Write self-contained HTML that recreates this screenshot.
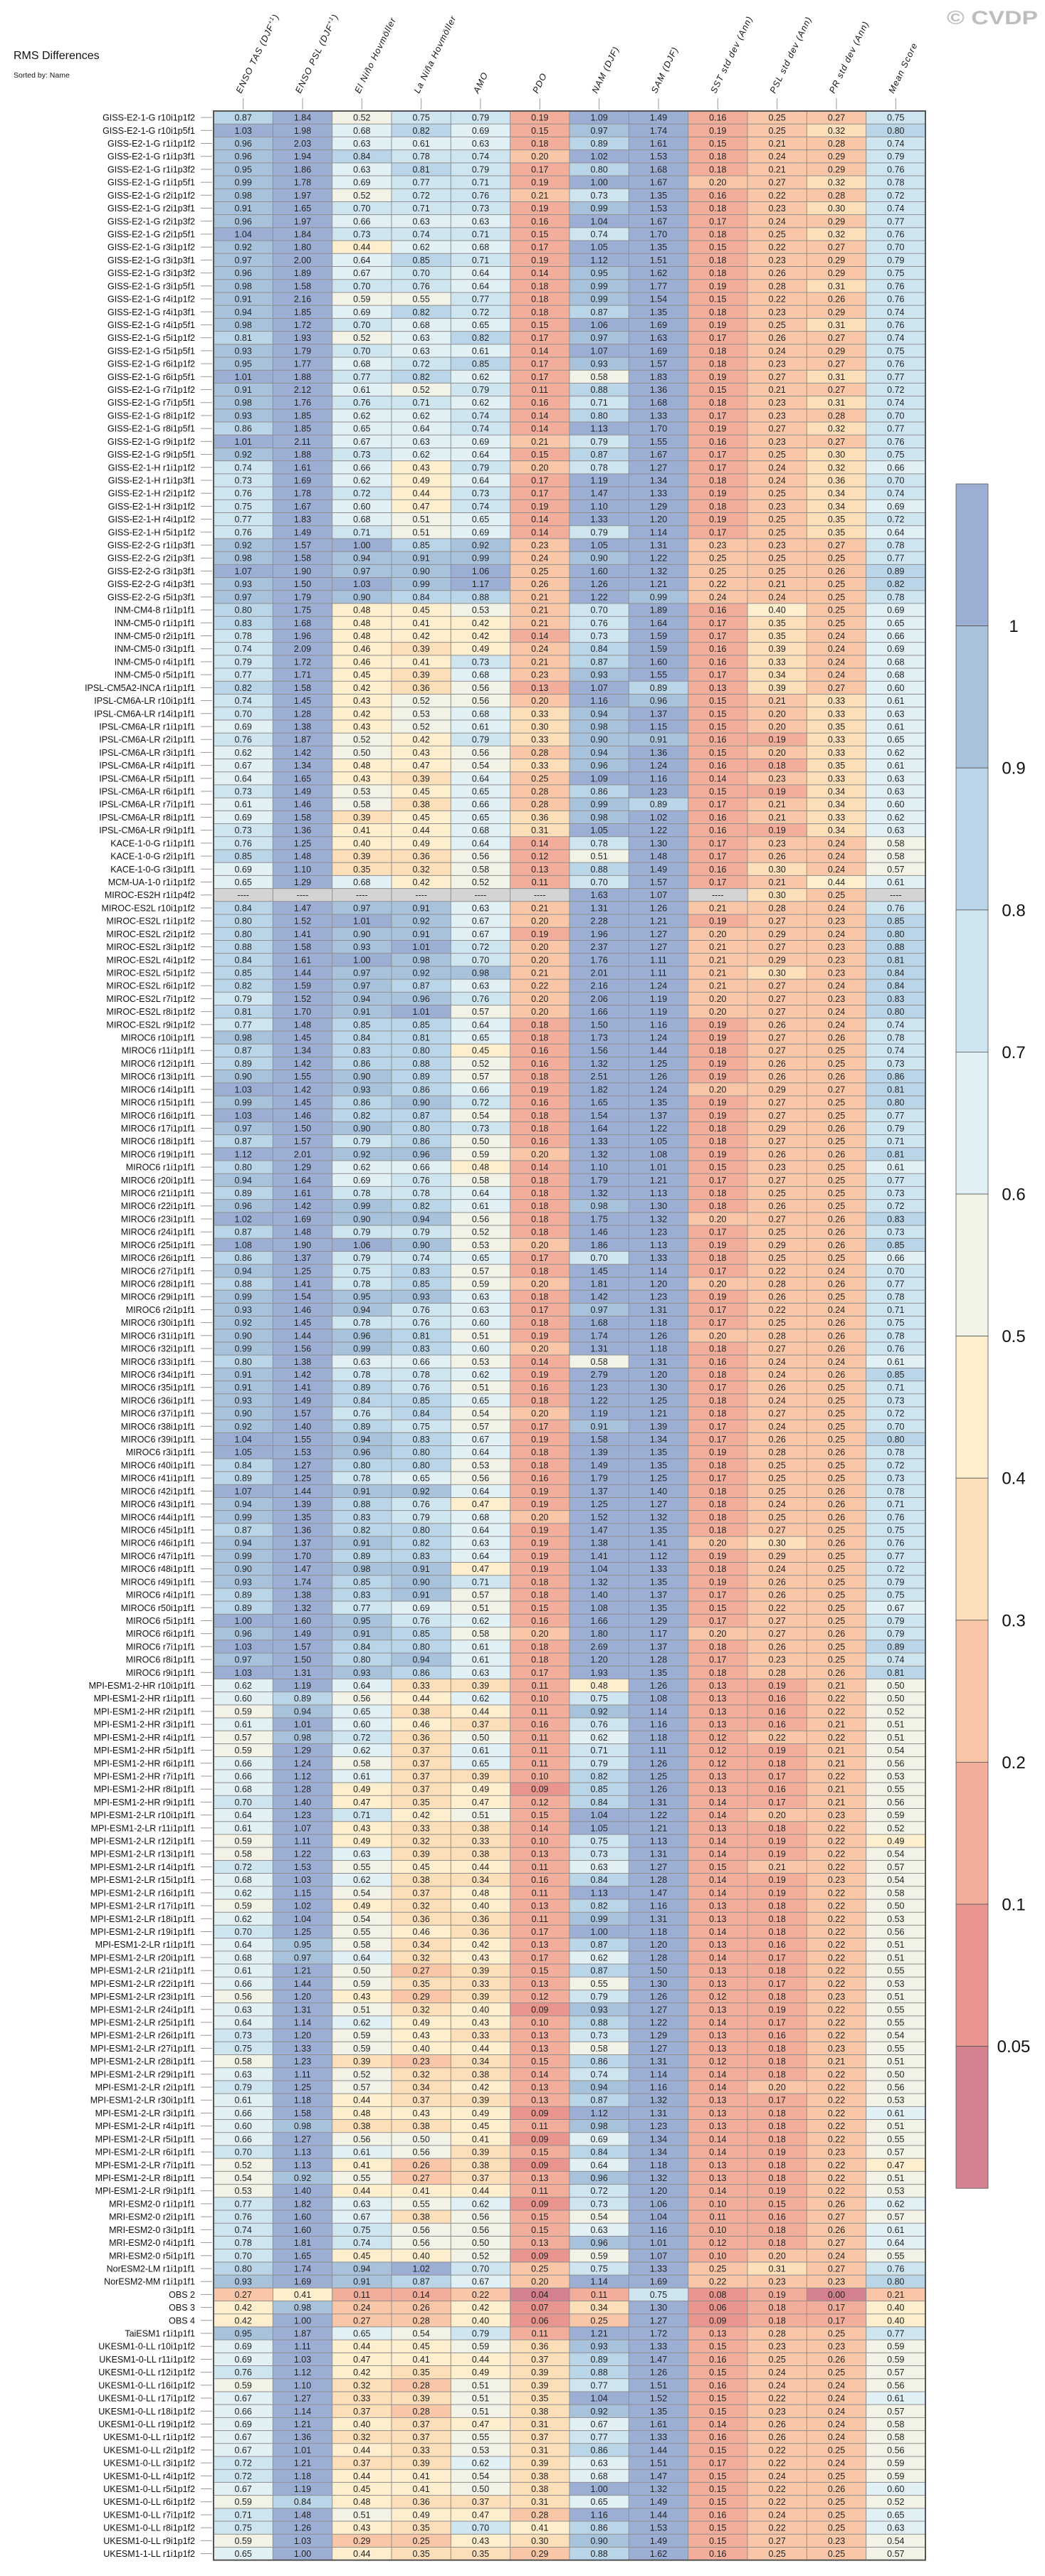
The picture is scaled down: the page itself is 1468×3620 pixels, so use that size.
<!DOCTYPE html>
<html>
<head>
<meta charset="utf-8">
<style>
  html,body{margin:0;padding:0;background:#fff;}
  svg{display:block;font-family:"Liberation Sans",Arial,sans-serif;}
</style>
</head>
<body>
<svg id="chart" width="1468" height="3620" viewBox="0 0 1468 3620" xmlns="http://www.w3.org/2000/svg">
  <text x="19" y="83" font-size="16" fill="#111">RMS Differences</text>
  <text x="19" y="109" font-size="10.5" fill="#111">Sorted by: Name</text>
  <text x="1330" y="34" font-size="27" font-weight="bold" fill="#bdbdbd" textLength="128" lengthAdjust="spacingAndGlyphs">© CVDP</text>
  <g id="headers"></g>
  <g id="labels"></g>
  <g id="cells"></g>
  <g id="grid"></g>
  <g id="colorbar"></g>
</svg>
<script>
const columns = ["ENSO TAS (DJF+1)","ENSO PSL (DJF+1)","El Niño Hovmöller","La Niña Hovmöller","AMO","PDO","NAM (DJF)","SAM (DJF)","SST std dev (Ann)","PSL std dev (Ann)","PR std dev (Ann)","Mean Score"];

const rowLabels = [
"GISS-E2-1-G r10i1p1f2","GISS-E2-1-G r10i1p5f1","GISS-E2-1-G r1i1p1f2","GISS-E2-1-G r1i1p3f1","GISS-E2-1-G r1i1p3f2","GISS-E2-1-G r1i1p5f1","GISS-E2-1-G r2i1p1f2","GISS-E2-1-G r2i1p3f1","GISS-E2-1-G r2i1p3f2","GISS-E2-1-G r2i1p5f1","GISS-E2-1-G r3i1p1f2","GISS-E2-1-G r3i1p3f1","GISS-E2-1-G r3i1p3f2","GISS-E2-1-G r3i1p5f1","GISS-E2-1-G r4i1p1f2","GISS-E2-1-G r4i1p3f1","GISS-E2-1-G r4i1p5f1","GISS-E2-1-G r5i1p1f2","GISS-E2-1-G r5i1p5f1","GISS-E2-1-G r6i1p1f2","GISS-E2-1-G r6i1p5f1","GISS-E2-1-G r7i1p1f2","GISS-E2-1-G r7i1p5f1","GISS-E2-1-G r8i1p1f2","GISS-E2-1-G r8i1p5f1","GISS-E2-1-G r9i1p1f2","GISS-E2-1-G r9i1p5f1",
"GISS-E2-1-H r1i1p1f2","GISS-E2-1-H r1i1p3f1","GISS-E2-1-H r2i1p1f2","GISS-E2-1-H r3i1p1f2","GISS-E2-1-H r4i1p1f2","GISS-E2-1-H r5i1p1f2",
"GISS-E2-2-G r1i1p3f1","GISS-E2-2-G r2i1p3f1","GISS-E2-2-G r3i1p3f1","GISS-E2-2-G r4i1p3f1","GISS-E2-2-G r5i1p3f1",
"INM-CM4-8 r1i1p1f1","INM-CM5-0 r1i1p1f1","INM-CM5-0 r2i1p1f1","INM-CM5-0 r3i1p1f1","INM-CM5-0 r4i1p1f1","INM-CM5-0 r5i1p1f1",
"IPSL-CM5A2-INCA r1i1p1f1","IPSL-CM6A-LR r10i1p1f1","IPSL-CM6A-LR r14i1p1f1","IPSL-CM6A-LR r1i1p1f1","IPSL-CM6A-LR r2i1p1f1","IPSL-CM6A-LR r3i1p1f1","IPSL-CM6A-LR r4i1p1f1","IPSL-CM6A-LR r5i1p1f1","IPSL-CM6A-LR r6i1p1f1","IPSL-CM6A-LR r7i1p1f1","IPSL-CM6A-LR r8i1p1f1","IPSL-CM6A-LR r9i1p1f1",
"KACE-1-0-G r1i1p1f1","KACE-1-0-G r2i1p1f1","KACE-1-0-G r3i1p1f1","MCM-UA-1-0 r1i1p1f2","MIROC-ES2H r1i1p4f2",
"MIROC-ES2L r10i1p1f2","MIROC-ES2L r1i1p1f2","MIROC-ES2L r2i1p1f2","MIROC-ES2L r3i1p1f2","MIROC-ES2L r4i1p1f2","MIROC-ES2L r5i1p1f2","MIROC-ES2L r6i1p1f2","MIROC-ES2L r7i1p1f2","MIROC-ES2L r8i1p1f2","MIROC-ES2L r9i1p1f2",
"MIROC6 r10i1p1f1","MIROC6 r11i1p1f1","MIROC6 r12i1p1f1","MIROC6 r13i1p1f1","MIROC6 r14i1p1f1","MIROC6 r15i1p1f1","MIROC6 r16i1p1f1","MIROC6 r17i1p1f1","MIROC6 r18i1p1f1","MIROC6 r19i1p1f1","MIROC6 r1i1p1f1","MIROC6 r20i1p1f1","MIROC6 r21i1p1f1","MIROC6 r22i1p1f1","MIROC6 r23i1p1f1","MIROC6 r24i1p1f1","MIROC6 r25i1p1f1","MIROC6 r26i1p1f1","MIROC6 r27i1p1f1","MIROC6 r28i1p1f1","MIROC6 r29i1p1f1","MIROC6 r2i1p1f1","MIROC6 r30i1p1f1","MIROC6 r31i1p1f1","MIROC6 r32i1p1f1","MIROC6 r33i1p1f1","MIROC6 r34i1p1f1","MIROC6 r35i1p1f1","MIROC6 r36i1p1f1","MIROC6 r37i1p1f1","MIROC6 r38i1p1f1","MIROC6 r39i1p1f1","MIROC6 r3i1p1f1","MIROC6 r40i1p1f1","MIROC6 r41i1p1f1","MIROC6 r42i1p1f1","MIROC6 r43i1p1f1","MIROC6 r44i1p1f1","MIROC6 r45i1p1f1","MIROC6 r46i1p1f1","MIROC6 r47i1p1f1","MIROC6 r48i1p1f1","MIROC6 r49i1p1f1","MIROC6 r4i1p1f1","MIROC6 r50i1p1f1","MIROC6 r5i1p1f1","MIROC6 r6i1p1f1","MIROC6 r7i1p1f1","MIROC6 r8i1p1f1","MIROC6 r9i1p1f1",
"MPI-ESM1-2-HR r10i1p1f1","MPI-ESM1-2-HR r1i1p1f1","MPI-ESM1-2-HR r2i1p1f1","MPI-ESM1-2-HR r3i1p1f1","MPI-ESM1-2-HR r4i1p1f1","MPI-ESM1-2-HR r5i1p1f1","MPI-ESM1-2-HR r6i1p1f1","MPI-ESM1-2-HR r7i1p1f1","MPI-ESM1-2-HR r8i1p1f1","MPI-ESM1-2-HR r9i1p1f1",
"MPI-ESM1-2-LR r10i1p1f1","MPI-ESM1-2-LR r11i1p1f1","MPI-ESM1-2-LR r12i1p1f1","MPI-ESM1-2-LR r13i1p1f1","MPI-ESM1-2-LR r14i1p1f1","MPI-ESM1-2-LR r15i1p1f1","MPI-ESM1-2-LR r16i1p1f1","MPI-ESM1-2-LR r17i1p1f1","MPI-ESM1-2-LR r18i1p1f1","MPI-ESM1-2-LR r19i1p1f1","MPI-ESM1-2-LR r1i1p1f1","MPI-ESM1-2-LR r20i1p1f1","MPI-ESM1-2-LR r21i1p1f1","MPI-ESM1-2-LR r22i1p1f1","MPI-ESM1-2-LR r23i1p1f1","MPI-ESM1-2-LR r24i1p1f1","MPI-ESM1-2-LR r25i1p1f1","MPI-ESM1-2-LR r26i1p1f1","MPI-ESM1-2-LR r27i1p1f1","MPI-ESM1-2-LR r28i1p1f1","MPI-ESM1-2-LR r29i1p1f1","MPI-ESM1-2-LR r2i1p1f1","MPI-ESM1-2-LR r30i1p1f1","MPI-ESM1-2-LR r3i1p1f1","MPI-ESM1-2-LR r4i1p1f1","MPI-ESM1-2-LR r5i1p1f1","MPI-ESM1-2-LR r6i1p1f1","MPI-ESM1-2-LR r7i1p1f1","MPI-ESM1-2-LR r8i1p1f1","MPI-ESM1-2-LR r9i1p1f1",
"MRI-ESM2-0 r1i1p1f1","MRI-ESM2-0 r2i1p1f1","MRI-ESM2-0 r3i1p1f1","MRI-ESM2-0 r4i1p1f1","MRI-ESM2-0 r5i1p1f1","NorESM2-LM r1i1p1f1","NorESM2-MM r1i1p1f1","OBS 2","OBS 3","OBS 4","TaiESM1 r1i1p1f1",
"UKESM1-0-LL r10i1p1f2","UKESM1-0-LL r11i1p1f2","UKESM1-0-LL r12i1p1f2","UKESM1-0-LL r16i1p1f2","UKESM1-0-LL r17i1p1f2","UKESM1-0-LL r18i1p1f2","UKESM1-0-LL r19i1p1f2","UKESM1-0-LL r1i1p1f2","UKESM1-0-LL r2i1p1f2","UKESM1-0-LL r3i1p1f2","UKESM1-0-LL r4i1p1f2","UKESM1-0-LL r5i1p1f2","UKESM1-0-LL r6i1p1f2","UKESM1-0-LL r7i1p1f2","UKESM1-0-LL r8i1p1f2","UKESM1-0-LL r9i1p1f2","UKESM1-1-LL r1i1p1f2"
];

const values = [
[.87,1.84,.52,.75,.79,.19,1.09,1.49,.16,.25,.27,.75],
[1.03,1.98,.68,.82,.69,.15,.97,1.74,.19,.25,.32,.80],
[.96,2.03,.63,.61,.63,.18,.89,1.61,.15,.21,.28,.74],
[.96,1.94,.84,.78,.74,.20,1.02,1.53,.18,.24,.29,.79],
[.95,1.86,.63,.81,.79,.17,.80,1.68,.18,.21,.29,.76],
[.99,1.78,.69,.77,.71,.19,1.00,1.67,.20,.27,.32,.78],
[.98,1.97,.52,.72,.76,.21,.73,1.35,.16,.22,.28,.72],
[.91,1.65,.70,.71,.73,.19,.99,1.53,.18,.23,.30,.74],
[.96,1.97,.66,.63,.63,.16,1.04,1.67,.17,.24,.29,.77],
[1.04,1.84,.73,.74,.71,.15,.74,1.70,.18,.25,.32,.76],
[.92,1.80,.44,.62,.68,.17,1.05,1.35,.15,.22,.27,.70],
[.97,2.00,.64,.85,.71,.19,1.12,1.51,.18,.23,.29,.79],
[.96,1.89,.67,.70,.64,.14,.95,1.62,.18,.26,.29,.75],
[.98,1.58,.70,.76,.64,.18,.99,1.77,.19,.28,.31,.76],
[.91,2.16,.59,.55,.77,.18,.99,1.54,.15,.22,.26,.76],
[.94,1.85,.69,.82,.72,.18,.87,1.35,.18,.23,.29,.74],
[.98,1.72,.70,.68,.65,.15,1.06,1.69,.19,.25,.31,.76],
[.81,1.93,.52,.63,.82,.17,.97,1.63,.17,.26,.27,.74],
[.93,1.79,.70,.63,.61,.14,1.07,1.69,.18,.24,.29,.75],
[.95,1.77,.68,.72,.85,.17,.93,1.57,.18,.23,.27,.76],
[1.01,1.88,.77,.82,.62,.17,.58,1.83,.19,.27,.31,.77],
[.91,2.12,.61,.52,.79,.11,.88,1.36,.15,.21,.27,.72],
[.98,1.76,.76,.71,.62,.16,.71,1.68,.18,.23,.31,.74],
[.93,1.85,.62,.62,.74,.14,.80,1.33,.17,.23,.28,.70],
[.86,1.85,.65,.64,.74,.14,1.13,1.70,.19,.27,.32,.77],
[1.01,2.11,.67,.63,.69,.21,.79,1.55,.16,.23,.27,.76],
[.92,1.88,.73,.62,.64,.15,.87,1.67,.17,.25,.30,.75],
[.74,1.61,.66,.43,.79,.20,.78,1.27,.17,.24,.32,.66],
[.73,1.69,.62,.49,.64,.17,1.19,1.34,.18,.24,.36,.70],
[.76,1.78,.72,.44,.73,.17,1.47,1.33,.19,.25,.34,.74],
[.75,1.67,.60,.47,.74,.19,1.10,1.29,.18,.23,.34,.69],
[.77,1.83,.68,.51,.65,.14,1.33,1.20,.19,.25,.35,.72],
[.76,1.49,.71,.51,.69,.14,.79,1.14,.17,.25,.35,.64],
[.92,1.57,1.00,.85,.92,.23,1.05,1.31,.23,.23,.27,.78],
[.98,1.58,.94,.91,.99,.24,.90,1.22,.25,.25,.25,.77],
[1.07,1.90,.97,.90,1.06,.25,1.60,1.32,.25,.25,.26,.89],
[.93,1.50,1.03,.99,1.17,.26,1.26,1.21,.22,.21,.25,.82],
[.97,1.79,.90,.84,.88,.21,1.22,.99,.24,.24,.25,.78],
[.80,1.75,.48,.45,.53,.21,.70,1.89,.16,.40,.25,.69],
[.83,1.68,.48,.41,.42,.21,.76,1.64,.17,.35,.25,.65],
[.78,1.96,.48,.42,.42,.14,.73,1.59,.17,.35,.24,.66],
[.74,2.09,.46,.39,.49,.24,.84,1.59,.16,.39,.24,.69],
[.79,1.72,.46,.41,.73,.21,.87,1.60,.16,.33,.24,.68],
[.77,1.71,.45,.39,.68,.23,.93,1.55,.17,.34,.24,.68],
[.82,1.58,.42,.36,.56,.13,1.07,.89,.13,.39,.27,.60],
[.74,1.45,.43,.52,.56,.20,1.16,.96,.15,.21,.33,.61],
[.70,1.28,.42,.53,.68,.33,.94,1.37,.15,.20,.33,.63],
[.69,1.38,.43,.52,.61,.30,.98,1.15,.15,.20,.35,.61],
[.76,1.87,.52,.42,.79,.33,.90,.91,.16,.19,.33,.65],
[.62,1.42,.50,.43,.56,.28,.94,1.36,.15,.20,.33,.62],
[.67,1.34,.48,.47,.54,.33,.96,1.24,.16,.18,.35,.61],
[.64,1.65,.43,.39,.64,.25,1.09,1.16,.14,.23,.33,.63],
[.73,1.49,.53,.45,.65,.28,.86,1.23,.15,.19,.34,.63],
[.61,1.46,.58,.38,.66,.28,.99,.89,.17,.21,.34,.60],
[.69,1.58,.39,.45,.65,.36,.98,1.02,.16,.21,.33,.62],
[.73,1.36,.41,.44,.68,.31,1.05,1.22,.16,.19,.34,.63],
[.76,1.25,.40,.49,.64,.14,.78,1.30,.17,.23,.24,.58],
[.85,1.48,.39,.36,.56,.12,.51,1.48,.17,.26,.24,.58],
[.69,1.10,.35,.32,.58,.13,.88,1.49,.16,.30,.24,.57],
[.65,1.29,.68,.42,.52,.11,.70,1.57,.17,.21,.44,.61],
[null,null,null,null,null,null,1.63,1.07,null,.30,.25,null],
[.84,1.47,.97,.91,.63,.21,1.31,1.26,.21,.28,.24,.76],
[.80,1.52,1.01,.92,.67,.20,2.28,1.21,.19,.27,.23,.85],
[.80,1.41,.90,.91,.67,.19,1.96,1.27,.20,.29,.24,.80],
[.88,1.58,.93,1.01,.72,.20,2.37,1.27,.21,.27,.23,.88],
[.84,1.61,1.00,.98,.70,.20,1.76,1.11,.21,.29,.23,.81],
[.85,1.44,.97,.92,.98,.21,2.01,1.11,.21,.30,.23,.84],
[.82,1.59,.97,.87,.63,.22,2.16,1.24,.21,.27,.24,.84],
[.79,1.52,.94,.96,.76,.20,2.06,1.19,.20,.27,.23,.83],
[.81,1.70,.91,1.01,.57,.20,1.66,1.19,.20,.27,.24,.80],
[.77,1.48,.85,.85,.64,.18,1.50,1.16,.19,.26,.24,.74],
[.98,1.45,.84,.81,.65,.18,1.73,1.24,.19,.27,.26,.78],
[.87,1.34,.83,.80,.45,.16,1.56,1.44,.18,.27,.25,.74],
[.89,1.42,.86,.88,.52,.16,1.32,1.25,.19,.26,.25,.73],
[.90,1.55,.90,.89,.57,.18,2.51,1.26,.19,.26,.26,.86],
[1.03,1.42,.93,.86,.66,.19,1.82,1.24,.20,.29,.27,.81],
[.99,1.45,.86,.90,.72,.16,1.65,1.35,.19,.27,.25,.80],
[1.03,1.46,.82,.87,.54,.18,1.54,1.37,.19,.27,.25,.77],
[.97,1.50,.90,.80,.73,.18,1.64,1.22,.18,.29,.26,.79],
[.87,1.57,.79,.86,.50,.16,1.33,1.05,.18,.27,.25,.71],
[1.12,2.01,.92,.96,.59,.20,1.32,1.08,.19,.26,.26,.81],
[.80,1.29,.62,.66,.48,.14,1.10,1.01,.15,.23,.25,.61],
[.94,1.64,.69,.76,.58,.18,1.79,1.21,.17,.27,.25,.77],
[.89,1.61,.78,.78,.64,.18,1.32,1.13,.18,.25,.25,.73],
[.96,1.42,.99,.82,.61,.18,.98,1.30,.18,.26,.25,.72],
[1.02,1.69,.90,.94,.56,.18,1.75,1.32,.20,.27,.26,.83],
[.87,1.48,.79,.79,.52,.18,1.46,1.23,.17,.25,.26,.73],
[1.08,1.90,1.06,.90,.53,.20,1.86,1.13,.19,.29,.26,.85],
[.86,1.37,.79,.74,.65,.17,.70,1.33,.18,.25,.25,.66],
[.94,1.25,.75,.83,.57,.18,1.45,1.14,.17,.22,.24,.70],
[.88,1.41,.78,.85,.59,.20,1.81,1.20,.20,.28,.26,.77],
[.99,1.54,.95,.93,.63,.18,1.42,1.23,.19,.26,.25,.78],
[.93,1.46,.94,.76,.63,.17,.97,1.31,.17,.22,.24,.71],
[.92,1.45,.78,.76,.60,.18,1.68,1.18,.17,.25,.26,.75],
[.90,1.44,.96,.81,.51,.19,1.74,1.26,.20,.28,.26,.78],
[.99,1.56,.99,.83,.60,.20,1.31,1.18,.18,.27,.26,.76],
[.80,1.38,.63,.66,.53,.14,.58,1.31,.16,.24,.24,.61],
[.91,1.42,.78,.78,.62,.19,2.79,1.20,.18,.24,.26,.85],
[.91,1.41,.89,.76,.51,.16,1.23,1.30,.17,.26,.25,.71],
[.93,1.49,.84,.85,.65,.18,1.22,1.25,.18,.24,.25,.73],
[.90,1.57,.76,.84,.54,.20,1.19,1.21,.18,.27,.25,.72],
[.92,1.40,.89,.75,.57,.17,.91,1.39,.17,.24,.25,.70],
[1.04,1.55,.94,.83,.67,.19,1.58,1.34,.17,.26,.25,.80],
[1.05,1.53,.96,.80,.64,.18,1.39,1.35,.19,.28,.26,.78],
[.84,1.27,.80,.80,.53,.18,1.49,1.35,.18,.25,.25,.72],
[.89,1.25,.78,.65,.56,.16,1.79,1.25,.17,.25,.25,.73],
[1.07,1.44,.91,.92,.64,.19,1.37,1.40,.18,.25,.26,.78],
[.94,1.39,.88,.76,.47,.19,1.25,1.27,.18,.24,.26,.71],
[.99,1.35,.83,.79,.68,.20,1.52,1.32,.18,.25,.26,.76],
[.87,1.36,.82,.80,.64,.19,1.47,1.35,.18,.27,.25,.75],
[.94,1.37,.91,.82,.63,.19,1.38,1.41,.20,.30,.26,.76],
[.99,1.70,.89,.83,.64,.19,1.41,1.12,.19,.29,.25,.77],
[.90,1.47,.98,.91,.47,.19,1.04,1.33,.18,.24,.25,.72],
[.93,1.74,.85,.90,.71,.18,1.32,1.35,.19,.26,.25,.79],
[.89,1.38,.83,.91,.57,.18,1.40,1.37,.17,.26,.25,.75],
[.89,1.32,.77,.69,.51,.15,1.08,1.35,.15,.22,.25,.67],
[1.00,1.60,.95,.76,.62,.16,1.66,1.29,.17,.27,.25,.79],
[.96,1.49,.91,.85,.58,.20,1.80,1.17,.20,.27,.26,.79],
[1.03,1.57,.84,.80,.61,.18,2.69,1.37,.18,.26,.25,.89],
[.97,1.50,.80,.94,.61,.18,1.20,1.28,.17,.23,.25,.74],
[1.03,1.31,.93,.86,.63,.17,1.93,1.35,.18,.28,.26,.81],
[.62,1.19,.64,.33,.39,.11,.48,1.26,.13,.19,.21,.50],
[.60,.89,.56,.44,.62,.10,.75,1.08,.13,.16,.22,.50],
[.59,.94,.65,.38,.44,.11,.92,1.14,.13,.16,.22,.52],
[.61,1.01,.60,.46,.37,.16,.76,1.16,.13,.16,.21,.51],
[.57,.98,.72,.36,.50,.11,.62,1.18,.12,.22,.22,.51],
[.59,1.29,.62,.37,.61,.11,.71,1.11,.12,.19,.21,.54],
[.66,1.24,.58,.37,.65,.11,.79,1.26,.12,.18,.21,.56],
[.66,1.12,.61,.37,.39,.10,.82,1.25,.13,.17,.22,.53],
[.68,1.28,.49,.37,.49,.09,.85,1.26,.13,.16,.21,.55],
[.70,1.40,.47,.35,.47,.12,.84,1.31,.14,.17,.21,.56],
[.64,1.23,.71,.42,.51,.15,1.04,1.22,.14,.20,.23,.59],
[.61,1.07,.43,.33,.38,.14,1.05,1.21,.13,.18,.22,.52],
[.59,1.11,.49,.32,.33,.10,.75,1.13,.14,.19,.22,.49],
[.58,1.22,.63,.39,.38,.13,.73,1.31,.14,.19,.22,.54],
[.72,1.53,.55,.45,.44,.11,.63,1.27,.15,.21,.22,.57],
[.68,1.03,.62,.38,.34,.16,.84,1.28,.14,.19,.23,.54],
[.62,1.15,.54,.37,.48,.11,1.13,1.47,.14,.19,.22,.58],
[.59,1.02,.49,.32,.40,.13,.82,1.16,.13,.18,.22,.50],
[.62,1.04,.54,.36,.36,.11,.99,1.31,.13,.18,.22,.53],
[.70,1.25,.55,.46,.36,.17,1.00,1.18,.14,.18,.22,.56],
[.64,.95,.58,.34,.42,.13,.87,1.20,.13,.16,.22,.51],
[.68,.97,.64,.32,.43,.17,.62,1.28,.14,.17,.22,.51],
[.61,1.21,.50,.27,.39,.15,.87,1.50,.13,.18,.22,.55],
[.66,1.44,.59,.35,.33,.13,.55,1.30,.13,.17,.22,.53],
[.56,1.20,.43,.29,.39,.12,.79,1.26,.12,.18,.23,.51],
[.63,1.31,.51,.32,.40,.09,.93,1.27,.13,.19,.22,.55],
[.64,1.14,.62,.49,.43,.10,.88,1.22,.14,.17,.22,.55],
[.73,1.20,.59,.43,.33,.13,.73,1.29,.13,.16,.22,.54],
[.75,1.33,.59,.40,.44,.13,.58,1.27,.13,.18,.23,.55],
[.58,1.23,.39,.23,.34,.15,.86,1.31,.12,.18,.21,.51],
[.63,1.11,.52,.32,.38,.14,.74,1.14,.14,.18,.22,.50],
[.79,1.25,.57,.34,.42,.13,.94,1.16,.14,.20,.22,.56],
[.61,1.18,.44,.37,.39,.13,.87,1.32,.13,.17,.22,.53],
[.66,1.58,.48,.43,.49,.09,1.12,1.31,.13,.18,.22,.61],
[.60,.98,.38,.38,.45,.11,.98,1.23,.13,.18,.22,.51],
[.66,1.27,.56,.50,.41,.09,.69,1.34,.14,.18,.22,.55],
[.70,1.13,.61,.56,.39,.15,.84,1.34,.14,.19,.23,.57],
[.52,1.13,.41,.26,.38,.09,.64,1.18,.13,.18,.22,.47],
[.54,.92,.55,.27,.37,.13,.96,1.32,.13,.18,.22,.51],
[.53,1.40,.44,.41,.44,.11,.72,1.20,.14,.19,.22,.53],
[.77,1.82,.63,.55,.62,.09,.73,1.06,.10,.15,.26,.62],
[.76,1.60,.67,.38,.56,.15,.54,1.04,.11,.16,.27,.57],
[.74,1.60,.75,.56,.56,.15,.63,1.16,.10,.18,.26,.61],
[.78,1.81,.74,.56,.50,.13,.96,1.01,.12,.18,.27,.64],
[.70,1.65,.45,.40,.52,.09,.59,1.07,.10,.20,.24,.55],
[.80,1.74,.94,1.02,.70,.25,.75,1.33,.25,.31,.27,.76],
[.93,1.69,.91,.87,.67,.20,1.14,1.69,.22,.23,.23,.80],
[.27,.41,.11,.14,.22,.04,.11,.75,.08,.19,.00,.21],
[.42,.98,.24,.26,.42,.07,.34,1.30,.06,.18,.17,.40],
[.42,1.00,.27,.28,.40,.06,.25,1.27,.09,.18,.17,.40],
[.95,1.87,.65,.54,.79,.11,1.21,1.72,.13,.28,.25,.77],
[.69,1.11,.44,.45,.59,.36,.93,1.33,.15,.23,.23,.59],
[.69,1.03,.47,.41,.44,.37,.89,1.47,.16,.25,.26,.59],
[.76,1.12,.42,.35,.49,.39,.88,1.26,.15,.24,.25,.57],
[.59,1.10,.32,.28,.51,.39,.77,1.51,.16,.24,.24,.56],
[.67,1.27,.33,.39,.51,.35,1.04,1.52,.15,.22,.24,.61],
[.66,1.14,.37,.28,.51,.38,.92,1.35,.15,.23,.24,.57],
[.69,1.21,.40,.37,.47,.31,.67,1.61,.14,.26,.24,.58],
[.67,1.36,.32,.37,.55,.37,.77,1.33,.16,.26,.24,.58],
[.67,1.01,.44,.33,.53,.31,.86,1.44,.15,.22,.25,.56],
[.72,1.21,.37,.39,.62,.39,.63,1.51,.17,.22,.24,.59],
[.72,1.18,.44,.41,.54,.38,.68,1.47,.15,.24,.25,.59],
[.67,1.19,.45,.41,.50,.38,1.00,1.32,.15,.22,.26,.60],
[.59,.84,.48,.36,.37,.31,.65,1.49,.15,.22,.25,.52],
[.71,1.48,.51,.49,.47,.28,1.16,1.44,.16,.24,.25,.65],
[.75,1.26,.43,.35,.70,.41,.86,1.53,.15,.22,.25,.63],
[.59,1.03,.29,.25,.43,.30,.90,1.49,.15,.27,.23,.54],
[.65,1.00,.44,.35,.35,.29,.88,1.62,.16,.25,.25,.57]
];

// colour bins: lower edges (ascending) and colours
const binEdges = [0, 0.05, 0.1, 0.2, 0.3, 0.4, 0.5, 0.6, 0.7, 0.8, 0.9, 1.0];
const binColors = ["#d5808f","#e8948f","#f3ae9b","#f9c7a8","#fcdeb8","#fdeecd","#f3f2e6","#e1f0f5","#cee5f0","#bad5e8","#a8c2dc","#9caed4"];
const colorbarTicks = ["1","0.9","0.8","0.7","0.6","0.5","0.4","0.3","0.2","0.1","0.05"];

const NS = "http://www.w3.org/2000/svg";
const X0 = 300, Y0 = 156, CW = 1000 / columns.length, RH = 18.21;
function xPos(c){ return X0 + c * CW; }
function yPos(r){ return Y0 + r * RH; }
function colorFor(v){
  if (v === null) return "#d4d4d4";
  let k = 0;
  for (let i = 0; i < binEdges.length; i++) if (v >= binEdges[i] - 1e-9) k = i;
  return binColors[k];
}
function mk(tag, attrs, parent){
  const e = document.createElementNS(NS, tag);
  for (const k in attrs) e.setAttribute(k, attrs[k]);
  parent.appendChild(e);
  return e;
}

// headers
const hg = document.getElementById("headers");
columns.forEach((name, c) => {
  const cx = xPos(c) + CW / 2;
  const t = mk("text", {x: 0, y: 0, "font-size": 12.5, "font-style": "italic", "letter-spacing": 1, fill: "#111",
    transform: `translate(${cx - 3},132) rotate(-64)`}, hg);
  
  
  const m = name.match(/^(.*DJF)\+1\)$/);
  if (m) {
    t.appendChild(document.createTextNode(m[1]));
    const s = mk("tspan", {"font-size": 8, dy: -5}, t);
    s.textContent = "+1";
    const s2 = mk("tspan", {dy: 5}, t);
    s2.textContent = ")";
  } else {
    t.textContent = name;
  }
  const tick = mk("line", {x1: cx, x2: cx, y1: 138, y2: 154, stroke: "#999", "stroke-width": 1}, hg);
  
  
});

// rows
const lg = document.getElementById("labels");
const cg = document.getElementById("cells");
rowLabels.forEach((lab, r) => {
  const yc = yPos(r) + RH / 2;
  const t = mk("text", {x: 274, y: yc + 4.5, "font-size": 12.5, "text-anchor": "end", fill: "#111"}, lg);
  
  
  t.textContent = lab;
  const tk = mk("line", {x1: 282, x2: 298, y1: yc, y2: yc, stroke: "#999", "stroke-width": 1}, lg);
  
  
  values[r].forEach((v, c) => {
    const rect = mk("rect", {x: xPos(c), y: yPos(r), width: CW, height: RH, fill: colorFor(v)}, cg);
    
    
    const tx = mk("text", {x: xPos(c) + CW / 2, y: yc + 4.5, "font-size": 12.5, "text-anchor": "middle", fill: "#222"}, cg);
    
    
    tx.textContent = v === null ? "----" : v.toFixed(2);
  });
});

// grid
const gg = document.getElementById("grid");
const H = rowLabels.length * RH;
for (let r = 1; r < rowLabels.length; r++) {
  mk("line", {x1: X0, x2: X0 + 1000, y1: yPos(r), y2: yPos(r), stroke: "#8f8f8f", "stroke-width": 1}, gg);
}
for (let c = 1; c < columns.length; c++) {
  mk("line", {x1: xPos(c), x2: xPos(c), y1: Y0, y2: Y0 + H, stroke: "#8f8f8f", "stroke-width": 1}, gg);
}
const border = mk("rect", {x: X0, y: Y0, width: 1000, height: H, fill: "none", stroke: "#555", "stroke-width": 2}, gg);



// colorbar
const cb = document.getElementById("colorbar");
const CBX = 1343, CBW = 45, CBY = 680, BAND = 199.6;
for (let i = 0; i < binColors.length; i++) {
  const col = binColors[binColors.length - 1 - i];
  const b = mk("rect", {x: CBX, y: CBY + i * BAND, width: CBW, height: BAND, fill: col, stroke: "#555", "stroke-width": 0.8}, cb);
  
  
}
colorbarTicks.forEach((lab, i) => {
  const t = mk("text", {x: 1424, y: CBY + (i + 1) * BAND + 8.5, "font-size": 24, "text-anchor": "middle", fill: "#111"}, cb);
  
  
  t.textContent = lab;
});
</script>
</body>
</html>
